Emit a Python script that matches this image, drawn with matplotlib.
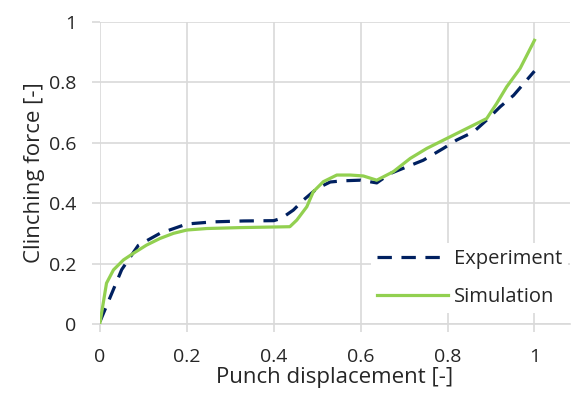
import matplotlib.pyplot as plt

# experiment curve (dashed)
exp_x = [0, 0.05, 0.088, 0.138, 0.2, 0.26, 0.33, 0.4, 0.418, 0.445, 0.468, 0.5, 0.53, 0.56,
         0.6, 0.637, 0.668, 0.706, 0.744, 0.79, 0.821, 0.86, 0.89, 0.921, 0.952, 0.982, 1.0]
exp_y = [0.008, 0.18, 0.26, 0.30, 0.331, 0.338, 0.341, 0.342, 0.35, 0.377, 0.41, 0.449, 0.47, 0.474,
         0.476, 0.467, 0.498, 0.52, 0.542, 0.581, 0.609, 0.636, 0.675, 0.719, 0.757, 0.807, 0.837]

# simulation curve (solid)
sim_x = [0, 0.015, 0.031, 0.054, 0.077, 0.107, 0.138, 0.169, 0.2, 0.246, 0.322, 0.4, 0.437, 0.453,
         0.476, 0.491, 0.514, 0.545, 0.576, 0.606, 0.637, 0.652, 0.675, 0.714, 0.752, 0.798, 0.844,
         0.89, 0.913, 0.936, 0.967, 1.0]
sim_y = [0.004, 0.135, 0.179, 0.212, 0.234, 0.261, 0.283, 0.30, 0.311, 0.316, 0.319, 0.321, 0.322, 0.344,
         0.388, 0.438, 0.471, 0.493, 0.493, 0.49, 0.476, 0.487, 0.504, 0.548, 0.581, 0.614, 0.647,
         0.68, 0.73, 0.785, 0.846, 0.939]

xticks = [0, 0.2, 0.4, 0.6, 0.8, 1]
xlabels = ['0', '0.2', '0.4', '0.6', '0.8', '1']
yticks = [0, 0.2, 0.4, 0.6, 0.8, 1]
ylabels = ['0', '0.2', '0.4', '0.6', '0.8', '1']

plt.rcParams['font.family'] = ['Open Sans', 'DejaVu Sans']
grid_c = '#D9D9D9'
text_c = '#262626'

fig = plt.figure(figsize=(5.74, 3.98), dpi=100)
ax = fig.add_axes([0.1742, 0.186, 0.819, 0.759])

ax.plot(exp_x, exp_y, color='#002060', lw=2.3, dashes=(4.5, 3), label='Experiment', zorder=3)
ax.plot(sim_x, sim_y, color='#92D050', lw=2.3, label='Simulation', zorder=4)

ax.set_xlim(0, 1.082)
ax.set_ylim(0, 1)
ax.set_xticks(xticks)
ax.set_xticklabels(xlabels)
ax.set_yticks(yticks)
ax.set_yticklabels(ylabels)
ax.grid(True, color=grid_c, lw=1.2, zorder=0)
ax.set_axisbelow(True)
for s in ['top', 'right', 'left']:
    ax.spines[s].set_visible(False)
ax.spines['bottom'].set_color(grid_c)
ax.spines['bottom'].set_linewidth(1.2)
ax.tick_params(axis='both', length=6, width=1.2, color=grid_c, labelsize=14,
               labelcolor=text_c)
ax.tick_params(axis='x', pad=11)
ax.tick_params(axis='y', pad=11)

ax.set_xlabel('Punch displacement [-]', fontsize=16, color=text_c, labelpad=1)
ax.set_ylabel('Clinching force [-]', fontsize=16, color=text_c, labelpad=3)

leg = ax.legend(loc='lower right', bbox_to_anchor=(1.0, 0.03), fontsize=14.5, frameon=True,
                fancybox=False, edgecolor='none', facecolor='white', framealpha=1,
                handlelength=3.5, labelspacing=0.9, borderpad=0.3, handletextpad=0.3,
                borderaxespad=0.1)
for t in leg.get_texts():
    t.set_color(text_c)

fig.savefig('out.png', dpi=100)
